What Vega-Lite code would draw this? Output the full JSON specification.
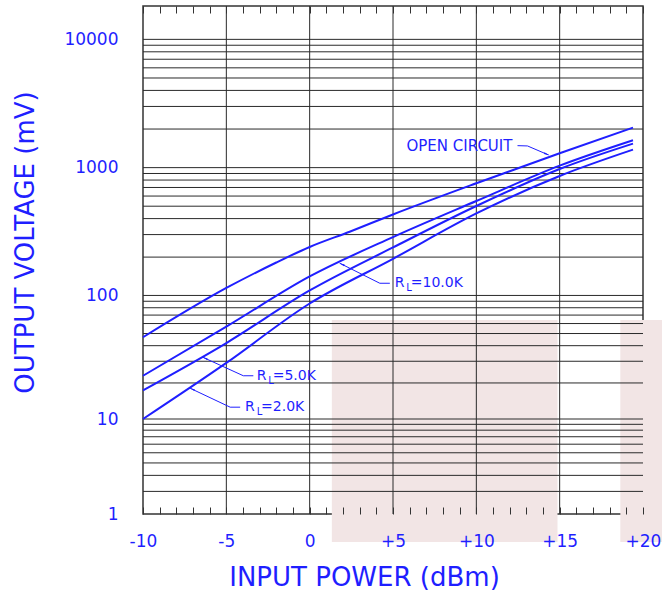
{
  "$schema": "https://vega.github.io/schema/vega-lite/v6.json",
  "width": 500,
  "height": 508,
  "autosize": "none",
  "padding": {"left": 143, "top": 6, "right": 19, "bottom": 81},
  "background": "white",
  "config": {
    "view": {"stroke": "#333333", "strokeWidth": 1.5},
    "axis": {
      "labelFont": "DejaVu Sans",
      "titleFont": "DejaVu Sans",
      "labelColor": "#1f1fff",
      "titleColor": "#1f1fff",
      "titleFontWeight": "normal"
    },
    "text": {"font": "DejaVu Sans", "color": "#1f1fff"}
  },
  "datasets": {
    "shade": [
      {"x0": 1.33, "x1": 14.87, "y0": 0.21, "y1": 64},
      {"x0": 18.64, "x1": 21.3, "y0": 0.21, "y1": 64}
    ],
    "hgrid": [
      {"v": 2}, {"v": 3}, {"v": 4}, {"v": 5}, {"v": 6}, {"v": 7}, {"v": 8}, {"v": 9},
      {"v": 10}, {"v": 20}, {"v": 30}, {"v": 40}, {"v": 50}, {"v": 60}, {"v": 70}, {"v": 80}, {"v": 90},
      {"v": 100}, {"v": 200}, {"v": 300}, {"v": 400}, {"v": 500}, {"v": 600}, {"v": 700}, {"v": 800}, {"v": 900},
      {"v": 1000}, {"v": 2000}, {"v": 3000}, {"v": 4000}, {"v": 5000}, {"v": 6000}, {"v": 7000}, {"v": 8000}, {"v": 9000},
      {"v": 10000}
    ],
    "vgrid": [{"v": -5}, {"v": 0}, {"v": 5}, {"v": 10}, {"v": 15}],
    "curves": [
      {"series": "OPEN CIRCUIT", "dbm": -10, "mv": 46.7},
      {"series": "OPEN CIRCUIT", "dbm": -5, "mv": 114.5},
      {"series": "OPEN CIRCUIT", "dbm": -2, "mv": 181.5},
      {"series": "OPEN CIRCUIT", "dbm": 0, "mv": 240},
      {"series": "OPEN CIRCUIT", "dbm": 2.4, "mv": 316},
      {"series": "OPEN CIRCUIT", "dbm": 5, "mv": 431},
      {"series": "OPEN CIRCUIT", "dbm": 10, "mv": 755},
      {"series": "OPEN CIRCUIT", "dbm": 15, "mv": 1295},
      {"series": "OPEN CIRCUIT", "dbm": 19.4, "mv": 2050},
      {"series": "RL=10.0K", "dbm": -10, "mv": 22.9},
      {"series": "RL=10.0K", "dbm": -5, "mv": 56.7},
      {"series": "RL=10.0K", "dbm": 0, "mv": 141},
      {"series": "RL=10.0K", "dbm": 5, "mv": 287},
      {"series": "RL=10.0K", "dbm": 10, "mv": 549},
      {"series": "RL=10.0K", "dbm": 15, "mv": 1036},
      {"series": "RL=10.0K", "dbm": 19.4, "mv": 1635},
      {"series": "RL=5.0K", "dbm": -10, "mv": 17.4},
      {"series": "RL=5.0K", "dbm": -5, "mv": 42},
      {"series": "RL=5.0K", "dbm": 0, "mv": 109.4},
      {"series": "RL=5.0K", "dbm": 5, "mv": 238},
      {"series": "RL=5.0K", "dbm": 10, "mv": 502},
      {"series": "RL=5.0K", "dbm": 15, "mv": 976},
      {"series": "RL=5.0K", "dbm": 19.4, "mv": 1538},
      {"series": "RL=2.0K", "dbm": -10, "mv": 10.0},
      {"series": "RL=2.0K", "dbm": -5, "mv": 29.1},
      {"series": "RL=2.0K", "dbm": 0, "mv": 86.4},
      {"series": "RL=2.0K", "dbm": 5, "mv": 194},
      {"series": "RL=2.0K", "dbm": 10, "mv": 438.8},
      {"series": "RL=2.0K", "dbm": 15, "mv": 861},
      {"series": "RL=2.0K", "dbm": 19.4, "mv": 1381}
    ],
    "leaders": [
      {"id": "oc", "k": 0, "dbm": 12.47, "mv": 1484},
      {"id": "oc", "k": 1, "dbm": 13.07, "mv": 1476},
      {"id": "oc", "k": 2, "dbm": 14.33, "mv": 1256},
      {"id": "r10", "k": 0, "dbm": 4.81, "mv": 124.7},
      {"id": "r10", "k": 1, "dbm": 4.21, "mv": 124.7},
      {"id": "r10", "k": 2, "dbm": 1.81, "mv": 178.9},
      {"id": "r5", "k": 0, "dbm": -3.38, "mv": 22.9},
      {"id": "r5", "k": 1, "dbm": -3.98, "mv": 22.9},
      {"id": "r5", "k": 2, "dbm": -6.41, "mv": 32.3},
      {"id": "r2", "k": 0, "dbm": -4.17, "mv": 12.6},
      {"id": "r2", "k": 1, "dbm": -4.77, "mv": 12.6},
      {"id": "r2", "k": 2, "dbm": -7.17, "mv": 18.1}
    ],
    "arrows": [
      {"id": "oc", "dbm": 14.18, "mv": 1280.6},
      {"id": "r10", "dbm": 1.976, "mv": 174.8},
      {"id": "r5", "dbm": -6.246, "mv": 31.6},
      {"id": "r2", "dbm": -7.006, "mv": 17.7}
    ],
    "notes": [
      {"part": "big", "dbm": 5.81, "mv": 1484, "t": "OPEN CIRCUIT"},
      {"part": "main", "dbm": 5.108, "mv": 124.7, "t": "R"},
      {"part": "sub", "dbm": 5.796, "mv": 124.7, "t": "L"},
      {"part": "main", "dbm": 6.066, "mv": 124.7, "t": "=10.0K"},
      {"part": "main", "dbm": -3.174, "mv": 22.9, "t": "R"},
      {"part": "sub", "dbm": -2.479, "mv": 22.9, "t": "L"},
      {"part": "main", "dbm": -2.216, "mv": 22.9, "t": "=5.0K"},
      {"part": "main", "dbm": -3.874, "mv": 12.6, "t": "R"},
      {"part": "sub", "dbm": -3.174, "mv": 12.6, "t": "L"},
      {"part": "main", "dbm": -2.916, "mv": 12.6, "t": "=2.0K"}
    ]
  },
  "resolve": {"axis": {"x": "independent", "y": "independent"}},
  "layer": [
    {
      "data": {"name": "shade"},
      "mark": {"type": "rect", "color": "#f2e5e5"},
      "encoding": {
        "x": {"field": "x0", "type": "quantitative", "scale": {"domain": [-10, 20], "nice": false, "zero": false}, "axis": null},
        "x2": {"field": "x1"},
        "y": {"field": "y0", "type": "quantitative", "scale": {"type": "symlog", "constant": 1, "domain": [1, 18200], "nice": false, "zero": false}, "axis": null},
        "y2": {"field": "y1"}
      }
    },
    {
      "data": {"name": "hgrid"},
      "mark": {"type": "rule", "color": "#2a2a2a", "strokeWidth": 1},
      "encoding": {
        "y": {
          "field": "v",
          "type": "quantitative",
          "scale": {"type": "symlog", "constant": 1, "domain": [1, 18200], "nice": false, "zero": false},
          "axis": {
            "orient": "left",
            "values": [1, 10, 100, 1000, 10000],
            "format": "d",
            "ticks": false,
            "domain": false,
            "grid": false,
            "labelFontSize": 17,
            "labelPadding": 25,
            "title": "OUTPUT VOLTAGE (mV)",
            "titleFontSize": 26,
            "titleAngle": -90,
            "titleX": -110,
            "titleY": 236,
            "titleAlign": "center",
            "titleBaseline": "alphabetic",
            "zindex": 1
          }
        }
      }
    },
    {
      "data": {"name": "vgrid"},
      "mark": {"type": "rule", "color": "#2a2a2a", "strokeWidth": 1},
      "encoding": {
        "x": {
          "field": "v",
          "type": "quantitative",
          "scale": {"domain": [-10, 20], "nice": false, "zero": false},
          "axis": {
            "orient": "top",
            "values": [-10, -9, -8, -7, -6, -5, -4, -3, -2, -1, 0, 1, 2, 3, 4, 5, 6, 7, 8, 9, 10, 11, 12, 13, 14, 15, 16, 17, 18, 19, 20],
            "tickSize": -7,
            "tickColor": "#333333",
            "labels": false,
            "domain": false,
            "grid": false,
            "title": null,
            "zindex": 1
          }
        }
      }
    },
    {
      "data": {"name": "curves"},
      "mark": {"type": "line", "color": "#1f1fff", "strokeWidth": 2, "interpolate": "monotone"},
      "encoding": {
        "x": {
          "field": "dbm",
          "type": "quantitative",
          "scale": {"domain": [-10, 20], "nice": false, "zero": false},
          "axis": {
            "orient": "bottom",
            "values": [-10, -9, -8, -7, -6, -5, -4, -3, -2, -1, 0, 1, 2, 3, 4, 5, 6, 7, 8, 9, 10, 11, 12, 13, 14, 15, 16, 17, 18, 19, 20],
            "labelExpr": "datum.value % 5 === 0 ? (datum.value > 0 ? '+' + datum.value : '' + datum.value) : ''",
            "tickSize": -7,
            "tickColor": "#333333",
            "domain": false,
            "grid": false,
            "labelFontSize": 17,
            "labelPadding": 26,
            "labelFlush": false,
            "labelOverlap": false,
            "title": "INPUT POWER (dBm)",
            "titleFontSize": 26,
            "titleX": 221,
            "titleY": 71,
            "titleAlign": "center",
            "titleBaseline": "alphabetic",
            "zindex": 1
          }
        },
        "y": {"field": "mv", "type": "quantitative", "scale": {"type": "symlog", "constant": 1, "domain": [1, 18200], "nice": false, "zero": false}, "axis": null},
        "detail": {"field": "series"}
      }
    },
    {
      "data": {"name": "leaders"},
      "mark": {"type": "line", "color": "#1f1fff", "strokeWidth": 1},
      "encoding": {
        "x": {"field": "dbm", "type": "quantitative", "scale": {"domain": [-10, 20], "nice": false, "zero": false}, "axis": null},
        "y": {"field": "mv", "type": "quantitative", "scale": {"type": "symlog", "constant": 1, "domain": [1, 18200], "nice": false, "zero": false}, "axis": null},
        "detail": {"field": "id"},
        "order": {"field": "k"}
      }
    },
    {
      "data": {"name": "arrows"},
      "transform": [{"filter": "datum.id === 'oc'"}],
      "mark": {"type": "point", "shape": "wedge", "filled": true, "color": "#1f1fff", "size": 45, "opacity": 1, "angle": 112},
      "encoding": {
        "x": {"field": "dbm", "type": "quantitative", "scale": {"domain": [-10, 20], "nice": false, "zero": false}, "axis": null},
        "y": {"field": "mv", "type": "quantitative", "scale": {"type": "symlog", "constant": 1, "domain": [1, 18200], "nice": false, "zero": false}, "axis": null}
      }
    },
    {
      "data": {"name": "arrows"},
      "transform": [{"filter": "datum.id !== 'oc'"}],
      "mark": {"type": "point", "shape": "wedge", "filled": true, "color": "#1f1fff", "size": 45, "opacity": 1, "angle": 295},
      "encoding": {
        "x": {"field": "dbm", "type": "quantitative", "scale": {"domain": [-10, 20], "nice": false, "zero": false}, "axis": null},
        "y": {"field": "mv", "type": "quantitative", "scale": {"type": "symlog", "constant": 1, "domain": [1, 18200], "nice": false, "zero": false}, "axis": null}
      }
    },
    {
      "data": {"name": "notes"},
      "transform": [{"filter": "datum.part === 'big'"}],
      "mark": {"type": "text", "align": "left", "baseline": "middle", "fontSize": 15},
      "encoding": {
        "x": {"field": "dbm", "type": "quantitative", "scale": {"domain": [-10, 20], "nice": false, "zero": false}, "axis": null},
        "y": {"field": "mv", "type": "quantitative", "scale": {"type": "symlog", "constant": 1, "domain": [1, 18200], "nice": false, "zero": false}, "axis": null},
        "text": {"field": "t"}
      }
    },
    {
      "data": {"name": "notes"},
      "transform": [{"filter": "datum.part === 'main'"}],
      "mark": {"type": "text", "align": "left", "baseline": "middle", "fontSize": 14},
      "encoding": {
        "x": {"field": "dbm", "type": "quantitative", "scale": {"domain": [-10, 20], "nice": false, "zero": false}, "axis": null},
        "y": {"field": "mv", "type": "quantitative", "scale": {"type": "symlog", "constant": 1, "domain": [1, 18200], "nice": false, "zero": false}, "axis": null},
        "text": {"field": "t"}
      }
    },
    {
      "data": {"name": "notes"},
      "transform": [{"filter": "datum.part === 'sub'"}],
      "mark": {"type": "text", "align": "left", "baseline": "middle", "fontSize": 10, "dy": 5},
      "encoding": {
        "x": {"field": "dbm", "type": "quantitative", "scale": {"domain": [-10, 20], "nice": false, "zero": false}, "axis": null},
        "y": {"field": "mv", "type": "quantitative", "scale": {"type": "symlog", "constant": 1, "domain": [1, 18200], "nice": false, "zero": false}, "axis": null},
        "text": {"field": "t"}
      }
    }
  ]
}
